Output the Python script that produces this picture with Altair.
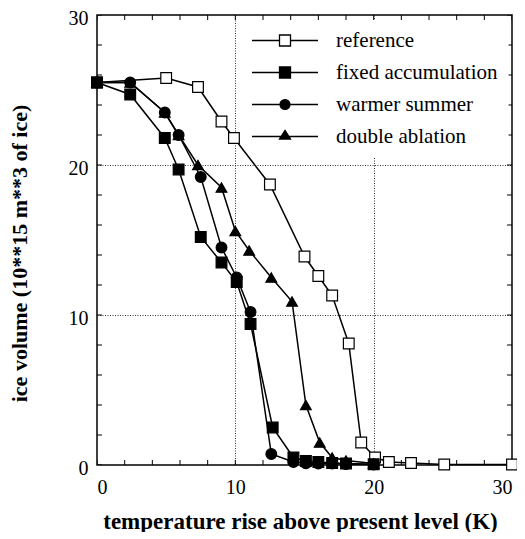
import altair as alt
import pandas as pd

SERIES = ["reference", "fixed accumulation", "warmer summer", "double ablation"]

ref_x = [0, 5, 7.3, 9, 9.9, 12.5, 15, 16, 17, 18.2, 19.1, 20.1, 21.1, 22.7, 25.1, 30]
ref_y = [25.5, 25.8, 25.2, 22.9, 21.8, 18.7, 13.9, 12.6, 11.3, 8.1, 1.5, 0.5, 0.2, 0.13, 0.03, 0.03]

fix_x = [0, 2.4, 4.9, 5.9, 7.5, 9, 10.1, 11.1, 12.7, 14.2, 15.1, 16, 17, 18, 20]
fix_y = [25.5, 24.7, 21.8, 19.7, 15.2, 13.5, 12.2, 9.4, 2.5, 0.5, 0.27, 0.2, 0.13, 0.1, 0.05]

warm_x = [0, 2.4, 4.9, 5.9, 7.5, 9, 10.1, 11.1, 12.6, 14.2, 15.1, 16, 17, 18, 20]
warm_y = [25.5, 25.5, 23.5, 22.0, 19.2, 14.5, 12.5, 10.2, 0.73, 0.2, 0.12, 0.1, 0.1, 0.06, 0.03]

dbl_x = [0, 2.4, 4.9, 5.9, 7.3, 9, 10, 11, 12.6, 14.1, 15.1, 16.1, 17, 18, 20]
dbl_y = [25.5, 25.5, 23.5, 22.0, 20.0, 18.5, 15.6, 14.3, 12.5, 10.9, 4.0, 1.5, 0.5, 0.3, 0.1]

TICKS = list(range(0, 31, 2))
AXIS_MIN, AXIS_MAX = 0, 30

# draw order: reference, double ablation, warmer summer, fixed accumulation (on top)
rows = []
for name, xs, ys in [("reference", ref_x, ref_y),
                     ("double ablation", dbl_x, dbl_y),
                     ("warmer summer", warm_x, warm_y),
                     ("fixed accumulation", fix_x, fix_y)]:
    for xv, yv in zip(xs, ys):
        rows.append({"series": name, "x": xv, "y": yv})
df = pd.DataFrame(rows)
tick_df = pd.DataFrame({"v": TICKS, "lo": AXIS_MIN, "hi": AXIS_MAX})

FONT = "Liberation Serif"
W, H = 415, 450
xscale = alt.Scale(domain=[AXIS_MIN, AXIS_MAX], nice=False, zero=False)
yscale = alt.Scale(domain=[AXIS_MIN, AXIS_MAX], nice=False, zero=False)
grid_cond = {"condition": {"test": "datum.value == 10 || datum.value == 20", "value": 1}, "value": 0}
lab_expr = "datum.value % 10 == 0 ? datum.label : ''"

x_axis = alt.Axis(orient="bottom", values=TICKS, labelExpr=lab_expr, grid=True, gridOpacity=grid_cond,
                  gridColor="#333", gridDash=[1, 1.5], gridWidth=1,
                  ticks=False, domain=False,
                  labelFont=FONT, labelFontSize=20, labelColor="black", labelPadding=12,
                  title="temperature rise above present level (K)",
                  titleFont=FONT, titleFontSize=23, titleFontWeight="bold", titleColor="black",
                  titleX=203, titleY=63, titleBaseline="alphabetic")
y_axis = alt.Axis(orient="left", values=TICKS, labelExpr=lab_expr, grid=True, gridOpacity=grid_cond,
                  gridColor="#333", gridDash=[1, 1.5], gridWidth=1,
                  ticks=False, domain=False,
                  labelFont=FONT, labelFontSize=20, labelColor="black", labelPadding=9,
                  labelOffset=3,
                  title="ice volume (10**15 m**3 of ice)",
                  titleFont=FONT, titleFontSize=22, titleFontWeight="bold", titleColor="black",
                  titleX=-78, titleY=238, titleAngle=-90, titleBaseline="middle")

base = alt.Chart(df)

lines = base.mark_line(color="black", strokeWidth=1.5).encode(
    x=alt.X("x:Q", scale=xscale, axis=x_axis),
    y=alt.Y("y:Q", scale=yscale, axis=y_axis),
    detail="series:N",
)

points = base.mark_point(filled=True, stroke="black", strokeWidth=1.2, opacity=1).encode(
    x=alt.X("x:Q", scale=xscale, axis=None),
    y=alt.Y("y:Q", scale=yscale, axis=None),
    shape=alt.Shape("series:N", scale=alt.Scale(domain=SERIES,
                    range=["square", "square", "circle", "triangle-up"]), legend=None),
    fill=alt.Fill("series:N", scale=alt.Scale(domain=SERIES,
                  range=["white", "black", "black", "black"]), legend=None),
    size=alt.Size("series:N", scale=alt.Scale(domain=SERIES, range=[115, 115, 90, 115]), legend=None),
)

# inward ticks on all four edges (clipped to the plot area)
tbase = alt.Chart(tick_df)
tick_v = dict(orient="vertical", size=10, thickness=1, color="black", opacity=1, clip=True)
tick_h = dict(orient="horizontal", size=10, thickness=1, color="black", opacity=1, clip=True)
t_bottom = tbase.mark_tick(**tick_v).encode(
    x=alt.X("v:Q", scale=xscale, axis=None), y=alt.Y("lo:Q", scale=yscale, axis=None))
t_top = tbase.mark_tick(**tick_v).encode(
    x=alt.X("v:Q", scale=xscale, axis=None), y=alt.Y("hi:Q", scale=yscale, axis=None))
t_left = tbase.mark_tick(**tick_h).encode(
    y=alt.Y("v:Q", scale=yscale, axis=None), x=alt.X("lo:Q", scale=xscale, axis=None))
t_right = tbase.mark_tick(**tick_h).encode(
    y=alt.Y("v:Q", scale=yscale, axis=None), x=alt.X("hi:Q", scale=xscale, axis=None))

LEG_PATHS = [
    "M-6,0H-1M1,0H6M-1,-1H1V1H-1Z",
    "M-6,0H6M-1,-1H1V1H-1Z",
    "M-6,0H6M-0.9,0A0.9,0.9,0,1,0,0.9,0A0.9,0.9,0,1,0,-0.9,0Z",
    "M-6,0H6M0,-1.1L1,0.45L-1,0.45Z",
]

leg = alt.Legend(title=None, orient="none", legendX=167.5, legendY=5,
                 symbolSize=121, symbolStrokeColor="black",
                 symbolStrokeWidth=1.3, symbolOpacity=1,
                 labelFont=FONT, labelFontSize=21, labelColor="black",
                 labelOffset=40.5, labelLimit=400, rowPadding=10,
                 padding=10, fillColor="white")

legend_layer = base.transform_filter("false").mark_point(
    filled=False, strokeWidth=1.2, opacity=1).encode(
    x=alt.X("x:Q", scale=xscale, axis=None),
    y=alt.Y("y:Q", scale=yscale, axis=None),
    shape=alt.Shape("series:N", scale=alt.Scale(domain=SERIES, range=LEG_PATHS), legend=leg),
    fill=alt.Fill("series:N", scale=alt.Scale(domain=SERIES,
                  range=["white", "black", "black", "black"]), legend=leg),
    stroke=alt.Stroke("series:N", scale=alt.Scale(domain=SERIES,
                      range=["black", "black", "black", "black"]), legend=leg),
)

chart = alt.layer(lines, t_bottom, t_top, t_left, t_right, points, legend_layer).resolve_axis(
    x="independent", y="independent"
).resolve_scale(
    shape="independent", fill="independent", size="independent", stroke="independent"
).properties(
    width=W, height=H,
    padding={"left": 89, "top": 7, "right": 5, "bottom": 67},
    autosize="none",
).configure_view(stroke="black", strokeWidth=1.5)

chart.save("out.html", embed_options={"renderer": "svg", "actions": False})
